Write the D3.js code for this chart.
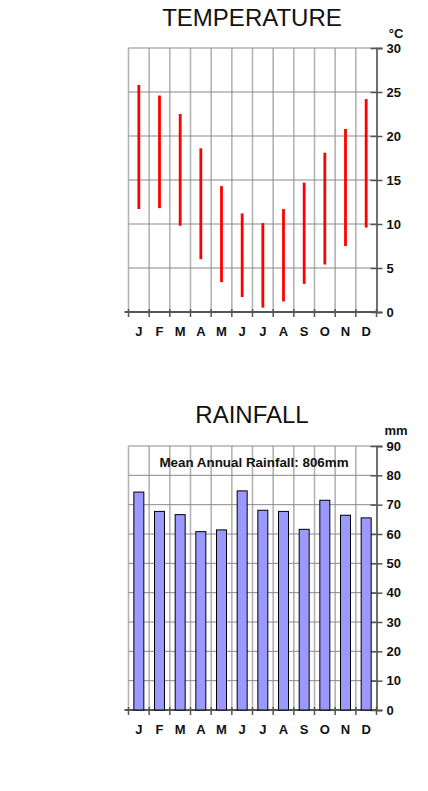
<!DOCTYPE html>
<html lang="en">
<head>
    <meta charset="UTF-8">
    <title>Temperature and Rainfall</title>
    <script src="https://d3js.org/d3.v7.min.js"></script>
    <style>
        body {
            margin: 0;
            background: #ffffff;
            font-family: 'Liberation Sans', Arial, sans-serif;
        }
        svg { display: block; }
        .title { font-size: 24px; fill: #111; }
        .tick-label { font-size: 13px; font-weight: bold; fill: #111; }
        .note { font-size: 13.4px; font-weight: bold; fill: #111; }
    </style>
</head>
<body>
    <div id="chart"></div>

    <script>
        // Monthly data
        const months = ["J", "F", "M", "A", "M", "J", "J", "A", "S", "O", "N", "D"];
        const tempMax = [25.8, 24.6, 22.5, 18.6, 14.3, 11.2, 10.1, 11.7, 14.7, 18.1, 20.8, 24.2];
        const tempMin = [11.7, 11.8, 9.8, 6.0, 3.4, 1.7, 0.5, 1.2, 3.2, 5.4, 7.5, 9.6];
        const rainfall = [74.3, 67.7, 66.6, 60.8, 61.4, 74.7, 68.1, 67.7, 61.6, 71.5, 66.4, 65.5];
        const tempTicks = [0, 5, 10, 15, 20, 25, 30];
        const rainTicks = [0, 10, 20, 30, 40, 50, 60, 70, 80, 90];

        const width = 428, height = 791;
        const left = 128.5, right = 376.5;

        const svg = d3.select("#chart").append("svg")
            .attr("width", width)
            .attr("height", height);

        const idx = d3.range(months.length);

        // draws frame, grid, axes and labels for one panel, returns scales
        function panel(top, bottom, domainMax, ticks, title, titleY, unit, unitY) {
            const g = svg.append("g");
            const x = d3.scaleBand().domain(idx).range([left, right]).paddingInner(0).paddingOuter(0);
            const y = d3.scaleLinear().domain([0, domainMax]).range([bottom, top]);

            // vertical grid at band edges
            const edges = idx.map(i => x(i)).concat([right]);
            g.selectAll(".vgrid").data(edges.slice(0, -1)).enter().append("line")
                .attr("x1", d => d).attr("x2", d => d)
                .attr("y1", top).attr("y2", bottom)
                .attr("stroke", "#b4b4b4").attr("stroke-width", 1.6);

            // horizontal grid
            g.selectAll(".hgrid").data(ticks).enter().append("line")
                .attr("x1", left).attr("x2", right)
                .attr("y1", d => y(d)).attr("y2", d => y(d))
                .attr("stroke", "#8a8a8a").attr("stroke-width", 1);

            // right axis
            const yAxis = d3.axisRight(y).tickValues(ticks).tickSize(6).tickPadding(4);
            const ya = g.append("g").attr("transform", `translate(${right},0)`).call(yAxis);
            ya.select(".domain").attr("stroke", "#707070").attr("stroke-width", 2);
            ya.selectAll(".tick line").attr("x1", -6).attr("x2", 6).attr("stroke", "#555").attr("stroke-width", 1.5);
            ya.selectAll(".tick text").attr("class", "tick-label").attr("x", 10)
                .style("font-family", "'Liberation Sans', Arial, sans-serif");

            // bottom axis
            g.append("line").attr("x1", left - 4).attr("x2", right)
                .attr("y1", bottom).attr("y2", bottom)
                .attr("stroke", "#555").attr("stroke-width", 2);
            g.selectAll(".xtick").data(edges).enter().append("line")
                .attr("x1", d => d).attr("x2", d => d)
                .attr("y1", bottom - 3).attr("y2", bottom + 5)
                .attr("stroke", "#555").attr("stroke-width", 1.5);

            g.selectAll(".mlabel").data(idx).enter().append("text")
                .attr("class", "tick-label")
                .attr("x", d => x(d) + x.bandwidth() / 2)
                .attr("y", bottom + 24)
                .attr("text-anchor", "middle")
                .text(d => months[d]);

            g.append("text").attr("class", "title")
                .attr("x", 252).attr("y", titleY)
                .attr("text-anchor", "middle").text(title);

            g.append("text").attr("class", "tick-label")
                .attr("x", 396).attr("y", unitY)
                .attr("text-anchor", "middle").text(unit);

            return { g, x, y };
        }

        // temperature panel
        const t = panel(48, 312, 30, tempTicks, "TEMPERATURE", 26, "°C", 38);
        t.g.selectAll(".range").data(idx).enter().append("line")
            .attr("x1", d => t.x(d) + t.x.bandwidth() / 2)
            .attr("x2", d => t.x(d) + t.x.bandwidth() / 2)
            .attr("y1", d => t.y(tempMax[d]))
            .attr("y2", d => t.y(tempMin[d]))
            .attr("stroke", "#ff0000").attr("stroke-width", 2.8);

        // rainfall panel
        const r = panel(446, 710, 90, rainTicks, "RAINFALL", 423, "mm", 435);
        const bw = 10;
        r.g.selectAll(".bar").data(idx).enter().append("rect")
            .attr("x", d => r.x(d) + r.x.bandwidth() / 2 - bw / 2)
            .attr("y", d => r.y(rainfall[d]))
            .attr("width", bw)
            .attr("height", d => r.y(0) - r.y(rainfall[d]))
            .attr("fill", "#9999ff").attr("stroke", "#000").attr("stroke-width", 1);

        r.g.append("text").attr("class", "note")
            .attr("x", 254).attr("y", 467)
            .attr("text-anchor", "middle")
            .text("Mean Annual Rainfall: " + Math.round(d3.sum(rainfall)) + "mm");
    </script>
</body>
</html>
